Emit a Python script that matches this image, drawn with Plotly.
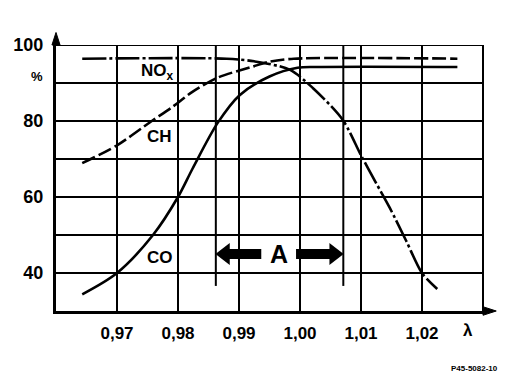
import plotly.graph_objects as go

# ---- data ----
co_lambda = [0.9643, 0.970, 0.9759, 0.980, 0.9824, 0.9865, 0.9901, 0.9950, 0.9996, 1.003, 1.0258]
co_pct    = [34.4,   40.0,  50.0,   60.0,  67.5,   79.5,   86.8,   91.7,   94.0,   94.2,  94.2]

ch_lambda = [0.9643, 0.970, 0.9757, 0.9790, 0.9823, 0.9865, 0.9922, 0.9950, 0.9990, 1.0258]
ch_pct    = [68.9,   73.6,  80.0,   83.6,   87.6,   91.4,   94.3,   95.6,   96.4,   96.4]

nox_lambda = [0.9643, 0.988, 0.9925, 0.9983, 1.0021, 1.007, 1.010, 1.0125, 1.0147, 1.0174, 1.020, 1.0225]
nox_pct    = [96.4,   96.4,  95.7,   93.5,   88.7,   80.3,  71.0,  63.6,   57.2,   48.5,   40.0,  35.8]

window_lambda = [0.9862, 1.0071]   # lambda window "A"
window_span = [36.6, 100]
window_label_y = 45

x_ticks = [0.97, 0.98, 0.99, 1.00, 1.01, 1.02]
x_labels = ["0,97", "0,98", "0,99", "1,00", "1,01", "1,02"]
y_ticks = [40, 60, 80, 100]
y_labels = ["40", "60", "80", "100"]

FONT = "Liberation Sans"

fig = go.Figure()

# window lines A
for xl in window_lambda:
    fig.add_trace(go.Scatter(x=[xl, xl], y=window_span, mode="lines",
                             line=dict(color="black", width=2), showlegend=False, hoverinfo="skip"))

fig.add_trace(go.Scatter(x=co_lambda, y=co_pct, mode="lines", name="CO",
                         line=dict(color="black", width=2.6, shape="spline", smoothing=0.9),
                         showlegend=False))
fig.add_trace(go.Scatter(x=ch_lambda, y=ch_pct, mode="lines", name="CH",
                         line=dict(color="black", width=2.6, shape="spline", smoothing=0.8, dash="14px,4px"),
                         showlegend=False))
fig.add_trace(go.Scatter(x=nox_lambda, y=nox_pct, mode="lines", name="NOx",
                         line=dict(color="black", width=2.6, shape="spline", smoothing=0.8,
                                   dash="24px,3px,3px,3px"),
                         showlegend=False))

# window A arrows (shaft + triangular head)
a_mid = (window_lambda[0] + window_lambda[1]) / 2
head_off = 0.0015
fig.add_trace(go.Scatter(x=[window_lambda[0] + head_off, a_mid - 0.0030],
                         y=[window_label_y, window_label_y], mode="lines",
                         line=dict(color="black", width=10), showlegend=False, hoverinfo="skip"))
fig.add_trace(go.Scatter(x=[a_mid + 0.0027, window_lambda[1] - head_off],
                         y=[window_label_y, window_label_y], mode="lines",
                         line=dict(color="black", width=10), showlegend=False, hoverinfo="skip"))
fig.add_trace(go.Scatter(x=[window_lambda[0] + head_off, window_lambda[1] - head_off],
                         y=[window_label_y, window_label_y], mode="markers",
                         marker=dict(symbol=["triangle-left", "triangle-right"], size=19, color="black"),
                         showlegend=False, hoverinfo="skip"))

tf = dict(family=FONT, size=17, color="black", weight="bold")

# the page body adds an 8px offset, so the figure is 8px smaller and margins compensate
fig.update_layout(
    width=505, height=372,
    margin=dict(l=48, r=30, t=37, b=69),
    paper_bgcolor="white", plot_bgcolor="white",
    xaxis=dict(range=[0.96, 1.03], tickvals=x_ticks, ticktext=x_labels,
               showgrid=True, gridcolor="black", gridwidth=2, automargin=False,
               showline=True, linecolor="black", linewidth=3,
               ticks="", ticklabelstandoff=5, tickfont=tf, zeroline=False),
    yaxis=dict(range=[30, 100], tickvals=y_ticks, ticktext=y_labels,
               showgrid=False, automargin=False,
               showline=True, linecolor="black", linewidth=3,
               ticks="", ticklabelstandoff=6, tickfont=dict(family=FONT, size=18, color="black", weight="bold"),
               zeroline=False),
)

# horizontal grid lines every 10 %
for yv in range(40, 101, 10):
    fig.add_shape(type="line", xref="paper", yref="y", x0=0, x1=1, y0=yv, y1=yv,
                  line=dict(color="black", width=2), layer="below")
# right border
fig.add_shape(type="line", xref="paper", yref="paper", x0=1, x1=1, y0=0, y1=1,
              line=dict(color="black", width=2))

# axis arrow heads
fig.add_shape(type="path", xref="paper", yref="paper",
              path="M 0 1.047 L -0.0095 1.0 L 0.0095 1.0 Z",
              fillcolor="black", line=dict(color="black", width=1))
fig.add_shape(type="path", xref="paper", yref="paper",
              path="M 1.031 0 L 1.0 0.016 L 1.0 -0.016 Z",
              fillcolor="black", line=dict(color="black", width=1))

# labels
lab = dict(family=FONT, size=17, color="black", weight="bold")
fig.add_annotation(x=0.9766, y=93.0, text="NO<sub>x</sub>", showarrow=False, font=lab)
fig.add_annotation(x=0.9769, y=75.8, text="CH", showarrow=False, font=lab)
fig.add_annotation(x=0.9770, y=44.0, text="CO", showarrow=False, font=lab)
fig.add_annotation(x=a_mid - 0.0001, y=window_label_y, text="A", showarrow=False,
                   font=dict(family=FONT, size=25, color="black", weight="bold"))
fig.add_annotation(xref="paper", yref="paper", x=-0.026, y=0.917, text="%", showarrow=False,
                   font=dict(family=FONT, size=13, color="black", weight="bold"), xanchor="right")
fig.add_annotation(xref="paper", yref="paper", x=0.965, y=-0.03, text="λ", showarrow=False,
                   font=dict(family=FONT, size=17, color="black", weight="bold"), yanchor="top", xanchor="center")
fig.add_annotation(xref="paper", yref="paper", x=1.04, y=-0.218, text="P45-5082-10", showarrow=False,
                   font=dict(family=FONT, size=8, color="black", weight="bold"), xanchor="right", yanchor="middle")

fig.write_html("out.html")
